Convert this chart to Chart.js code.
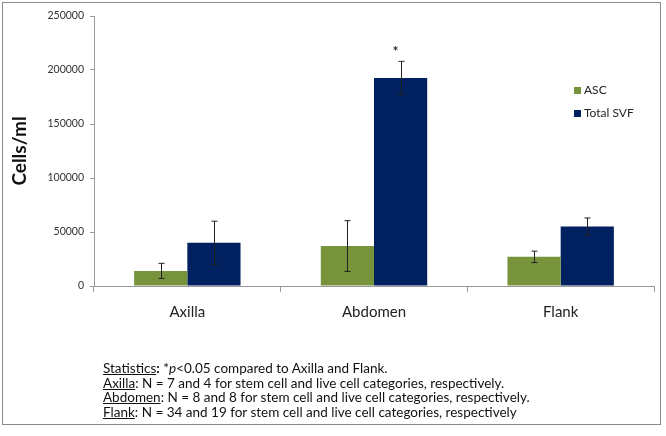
<!DOCTYPE html>
<html>
<head>
<meta charset="utf-8">
<script src="https://cdn.jsdelivr.net/npm/chart.js@4"></script>
<style>
  body { margin: 0; background: #fff; }
  #wrap { position: relative; width: 666px; height: 436px; font-family: Lato, "Open Sans", sans-serif; }
  #frame { position: absolute; left: 2px; top: 2px; width: 657px; height: 421px; border: 1px solid #8a8a8a; }
  canvas { position: absolute; left: 0; top: 0; }
  #legend { position: absolute; left: 574px; top: 82px; font-size: 12px; color: #222; }
  #legend div { height: 23px; line-height: 16px; }
  #legend span.box { display: inline-block; width: 7px; height: 7px; margin-right: 3px; vertical-align: 0px; }
  #notes { position: absolute; left: 103px; top: 361px; font-size: 13.5px; line-height: 14.7px; color: #111; }
  #notes u { text-decoration: underline; }
</style>
</head>
<body>
<div id="wrap">
  <div id="frame"></div>
  <canvas id="cellChart" width="666" height="436"></canvas>
  <div id="legend"></div>
  <div id="notes">
    <div><u>Statistics</u><b>:</b> *<i>p</i>&lt;0.05 compared to Axilla and Flank.</div>
    <div><u>Axilla</u>: N = 7 and 4 for stem cell and live cell categories, respectively.</div>
    <div><u>Abdomen</u>: N = 8 and 8 for stem cell and live cell categories, respectively.</div>
    <div><u>Flank</u>: N = 34 and 19 for stem cell and live cell categories, respectively</div>
  </div>
</div>
<script>
// 数据
const sites = ['Axilla', 'Abdomen', 'Flank'];
const ascValues = [14000, 37000, 27000];
const ascErrors = [7000, 23500, 5300];
const svfValues = [40000, 192500, 55000];
const svfErrors = [20000, 15500, 8000];
const svfMarks = ['', '*', ''];
const yTicks = [0, 50000, 100000, 150000, 200000, 250000];

const errorSets = [ascErrors, svfErrors];
const markSets = [['', '', ''], svfMarks];

// 误差线和显著性标记
const errorBarPlugin = {
    id: 'errorBars',
    afterDatasetsDraw(chart) {
        const ctx = chart.ctx;
        const yScale = chart.scales.y;
        chart.data.datasets.forEach((ds, i) => {
            const meta = chart.getDatasetMeta(i);
            meta.data.forEach((bar, j) => {
                const v = ds.data[j];
                const e = errorSets[i][j];
                const top = yScale.getPixelForValue(v + e);
                const bottom = yScale.getPixelForValue(v - e);
                const x = Math.round(bar.x) + 0.5;
                ctx.save();
                ctx.strokeStyle = '#222';
                ctx.lineWidth = 1;
                ctx.beginPath();
                ctx.moveTo(x, top);
                ctx.lineTo(x, bottom);
                ctx.moveTo(x - 3, top);
                ctx.lineTo(x + 3, top);
                ctx.moveTo(x - 3, bottom);
                ctx.lineTo(x + 3, bottom);
                ctx.stroke();
                const mark = markSets[i][j];
                if (mark) {
                    ctx.fillStyle = '#222';
                    ctx.font = 'bold 13px Lato';
                    ctx.textAlign = 'center';
                    ctx.textBaseline = 'middle';
                    ctx.fillText(mark, x - 6, top - 10);
                }
                ctx.restore();
            });
        });
    }
};

function createChart() {
    const ctx = document.getElementById('cellChart').getContext('2d');
    const chart = new Chart(ctx, {
        type: 'bar',
        data: {
            labels: sites,
            datasets: [
                { label: 'ASC', data: ascValues, backgroundColor: '#77933C' },
                { label: 'Total SVF', data: svfValues, backgroundColor: '#002060' }
            ]
        },
        options: {
            responsive: false,
            animation: false,
            layout: { padding: { left: 0, top: 16, right: 12, bottom: 0 } },
            datasets: { bar: { categoryPercentage: 0.57, barPercentage: 1.0 } },
            plugins: {
                legend: { display: false },
                tooltip: { enabled: false }
            },
            scales: {
                x: {
                    grid: { display: true, drawOnChartArea: false, drawTicks: true, tickLength: 6, color: '#999', offset: true },
                    border: { display: true, color: '#999' },
                    ticks: { font: { family: 'Lato', size: 15 }, color: '#222', padding: 11 },
                    afterFit(scale) { scale.height = 150; }
                },
                y: {
                    min: 0,
                    max: 250000,
                    afterBuildTicks(scale) { scale.ticks = yTicks.map(v => ({ value: v })); },
                    grid: { display: true, drawOnChartArea: false, drawTicks: true, tickLength: 4, color: '#999' },
                    border: { display: true, color: '#999' },
                    ticks: {
                        font: { family: 'Lato', size: 10.5 }, color: '#333', padding: 6,
                        callback: v => String(v)
                    },
                    title: { display: true, text: 'Cells/ml', font: { family: 'Lato', size: 19, weight: 'bold' }, color: '#111', padding: { top: 8, bottom: 0 } },
                    afterFit(scale) { scale.width = 94; }
                }
            }
        },
        plugins: [errorBarPlugin]
    });

    // 图例
    const legend = document.getElementById('legend');
    chart.data.datasets.forEach(ds => {
        const row = document.createElement('div');
        row.innerHTML = '<span class="box" style="background:' + ds.backgroundColor + '"></span>' + ds.label;
        legend.appendChild(row);
    });
}

document.addEventListener('DOMContentLoaded', createChart);
</script>
</body>
</html>
